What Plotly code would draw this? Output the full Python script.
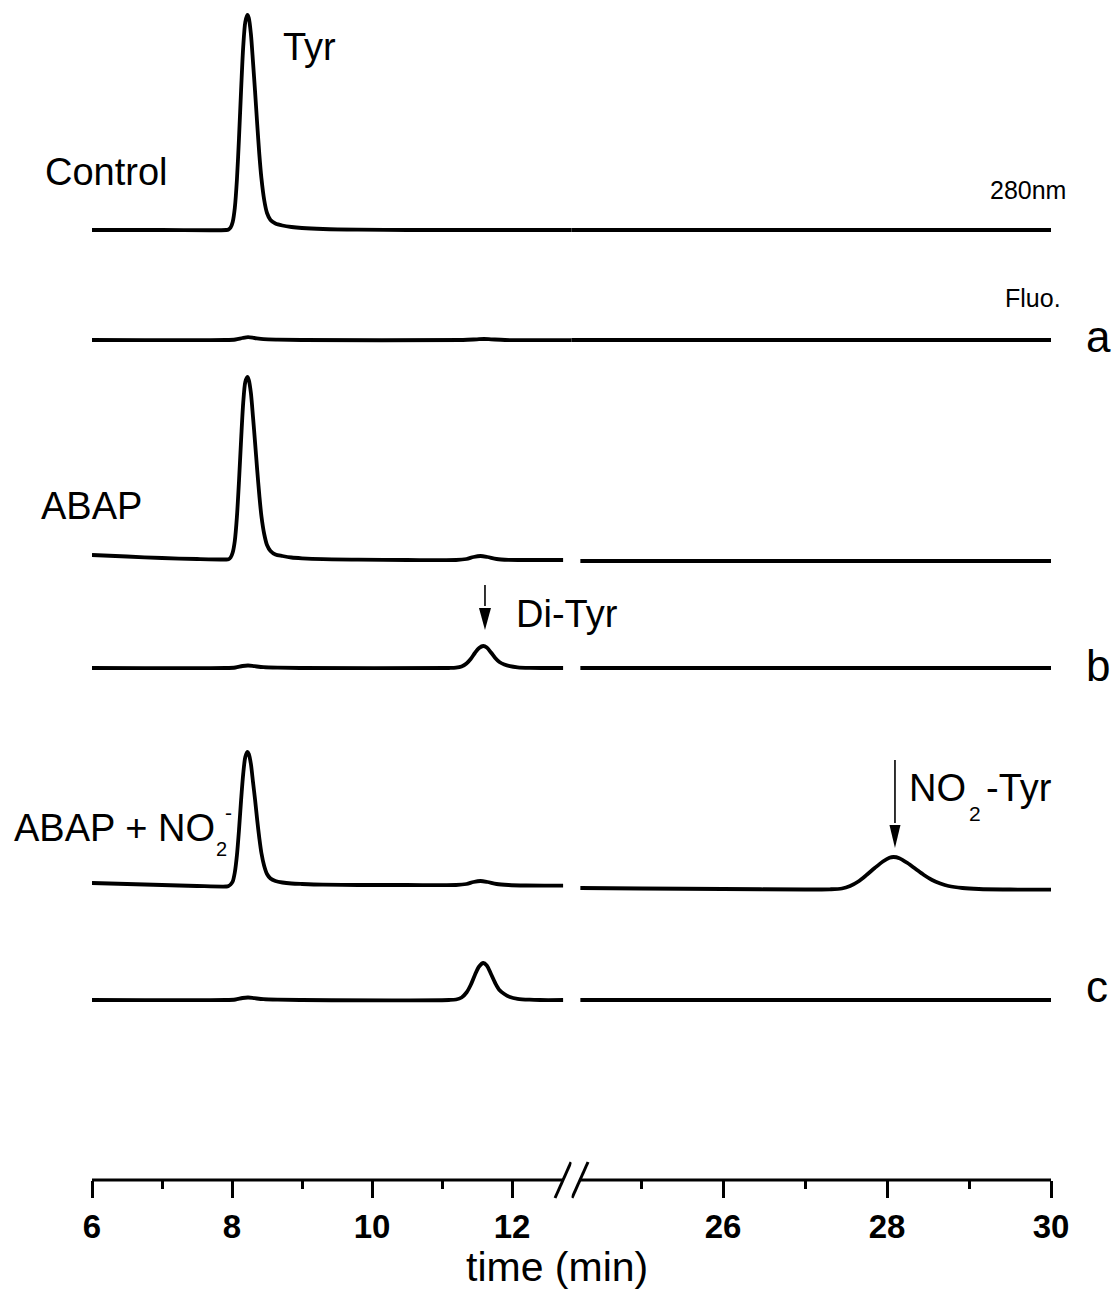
import plotly.graph_objects as go

# ---------------------------------------------------------------------------
# Chromatogram data: retention time (min) and detector response (a.u.,
# measured from each trace's own baseline).  Times below 20 min belong to the
# left panel of the broken time axis, times above 20 min to the right panel.
# ---------------------------------------------------------------------------

# Control, 280 nm absorbance
control_t = [6.0, 7.0, 7.92, 7.95, 7.98, 8.01, 8.04, 8.07, 8.10, 8.13, 8.16, 8.19,
             8.22, 8.24, 8.27, 8.30, 8.33, 8.36, 8.39, 8.42, 8.46, 8.50, 8.55, 8.62,
             8.72, 8.85, 9.0, 9.3, 9.8, 10.5, 11.5, 12.95,
             24.05, 27.0, 30.0]
control_v = [0, 0, 0, 0.5, 2.5, 8, 22, 50, 92, 140, 183, 208,
             215, 212, 196, 168, 138, 106, 76, 52, 30, 17, 10, 6.5,
             4.5, 3, 2, 1, 0.3, 0, 0, 0,
             0, 0, 0]

# Control, fluorescence (trace a)
a_t = [6.0, 7.9, 8.05, 8.15, 8.23, 8.32, 8.45, 8.65, 9.0, 11.3, 11.5, 11.6, 11.7,
       11.9, 12.95, 24.05, 30.0]
a_v = [0, 0, 0.5, 2, 2.8, 2, 0.8, 0.3, 0, 0, 0.7, 1, 0.7,
       0, 0, 0, 0]

# ABAP, 280 nm absorbance
abap_t = [6.0, 6.5, 7.0, 7.5, 7.9, 7.95, 7.98, 8.01, 8.04, 8.07, 8.10, 8.13, 8.16,
          8.19, 8.22, 8.24, 8.27, 8.30, 8.33, 8.36, 8.39, 8.42, 8.46, 8.50, 8.55,
          8.62, 8.72, 8.85, 9.0, 9.3, 9.8, 10.5, 11.2, 11.35, 11.45, 11.55, 11.65,
          11.78, 11.95, 12.2, 12.73,
          24.26, 30.0]
abap_v = [5, 3.5, 2, 1, 0.5, 0.7, 2.5, 7.5, 19, 43, 79, 120, 157,
          178, 183, 180, 167, 143, 117, 90, 65, 44, 26, 15, 9,
          5.5, 4, 2.5, 1.7, 0.8, 0.3, 0, 0, 1, 3, 4, 3,
          1, 0.2, 0, 0,
          -1, -1]

# ABAP, fluorescence (trace b)
b_t = [6.0, 7.9, 8.05, 8.15, 8.23, 8.32, 8.45, 8.65, 9.0, 11.10, 11.20, 11.28,
       11.35, 11.41, 11.47, 11.53, 11.59, 11.64, 11.70, 11.76, 11.82, 11.89, 11.97,
       12.08, 12.25, 12.73,
       24.26, 30.0]
b_v = [0, 0, 0.5, 2, 2.5, 1.8, 0.8, 0.3, 0, 0, 0.3, 1.5,
       4.5, 9, 15, 20, 22, 20.5, 15.5, 10, 6, 3.5, 1.8,
       0.7, 0.2, 0,
       0, 0]

# ABAP + NO2-, 280 nm absorbance
nitrite_t = [6.0, 6.5, 7.0, 7.5, 7.92, 7.95, 7.98, 8.01, 8.04, 8.07, 8.10, 8.13,
             8.16, 8.19, 8.22, 8.24, 8.27, 8.30, 8.33, 8.36, 8.39, 8.42, 8.46, 8.50,
             8.55, 8.62, 8.72, 8.85, 9.0, 9.3, 9.8, 10.5, 11.2, 11.35, 11.45, 11.55,
             11.65, 11.78, 11.95, 12.2, 12.73,
             24.26, 25.0, 26.0, 27.0, 27.3, 27.45, 27.55, 27.65, 27.75, 27.85, 27.95,
             28.03, 28.08, 28.15, 28.25, 28.35, 28.45, 28.55, 28.65, 28.75, 28.92,
             29.12, 29.5, 30.0]
nitrite_v = [3, 2, 1, 0, -0.5, 0, 1.5, 4.5, 13.5, 30.5, 56, 86,
             112, 129, 134, 132, 122, 104, 86, 66, 48, 33, 20, 12,
             7.5, 5, 3.5, 2.5, 2, 1.3, 1, 1, 1, 2, 4, 5,
             4, 2, 1, 0.5, 0.3,
             -2, -2.5, -3, -3.5, -3.3, -2.5, 0, 4.5, 11, 18, 24.5,
             28.3, 29, 27.8, 23, 17, 11, 6, 2.5, 0, -2,
             -3, -3.5, -3.7]

# ABAP + NO2-, fluorescence (trace c)
c_t = [6.0, 7.9, 8.05, 8.15, 8.23, 8.32, 8.45, 8.65, 9.0, 11.10, 11.20, 11.28,
       11.35, 11.41, 11.47, 11.53, 11.59, 11.64, 11.70, 11.76, 11.82, 11.89, 11.97,
       12.08, 12.25, 12.4, 12.73,
       24.26, 30.0]
c_v = [0, 0, 0.5, 2, 2.5, 1.8, 0.8, 0.3, 0, 0, 0.5, 2.5,
       7.5, 15, 25, 33.5, 37, 34.5, 26, 17, 10, 6, 3,
       1.2, 0.3, 0, 0,
       0, 0]

# Vertical stacking of the six traces (baseline of each, in plot units)
trace_names = ["Control 280nm", "Control Fluo.", "ABAP 280nm", "ABAP Fluo.",
               "ABAP + NO2- 280nm", "ABAP + NO2- Fluo."]
trace_times = [control_t, a_t, abap_t, b_t, nitrite_t, c_t]
trace_values = [control_v, a_v, abap_v, b_v, nitrite_v, c_v]
baselines = [950, 840, 620, 512, 294, 180]

# Broken time axis
left_ticks = [6, 8, 10, 12]
left_minor = [7, 9, 11]
right_ticks = [26, 28, 30]
right_minor = [25, 27, 29]

FONT = "Liberation Sans, Arial, Helvetica, sans-serif"
INK = "black"

fig = go.Figure()

for name, ts, vs, base in zip(trace_names, trace_times, trace_values, baselines):
    left = [(t, v + base) for t, v in zip(ts, vs) if t < 20]
    right = [(t, v + base) for t, v in zip(ts, vs) if t > 20]
    for pts, xa in ((left, "x"), (right, "x2")):
        fig.add_trace(go.Scatter(
            x=[p[0] for p in pts], y=[p[1] for p in pts],
            xaxis=xa, yaxis="y", mode="lines", name=name,
            line=dict(color=INK, width=3.8, shape="spline", smoothing=0.8),
            showlegend=False, hoverinfo="skip",
        ))

axis_common = dict(
    ticks="outside", ticklen=17, tickwidth=3, tickcolor=INK,
    showline=False, showgrid=False, zeroline=False, anchor="y",
    tickfont=dict(family=FONT, size=33, color=INK, weight="bold"),
)

fig.update_layout(
    width=1113, height=1291,
    margin=dict(l=92, r=62, t=0, b=111),
    paper_bgcolor="white", plot_bgcolor="white",
    xaxis=dict(domain=[0, 0.5], range=[6, 12.85], tickvals=left_ticks,
               minor=dict(tickvals=left_minor, ticks="outside", ticklen=8,
                          tickwidth=3, tickcolor=INK),
               **axis_common),
    xaxis2=dict(domain=[0.5, 1], range=[24.152, 30], tickvals=right_ticks,
                minor=dict(tickvals=right_minor, ticks="outside", ticklen=8,
                           tickwidth=3, tickcolor=INK),
                **axis_common),
    yaxis=dict(range=[0, 1180], visible=False, fixedrange=True),
)

# Axis lines with the "//" break mark between the two panels
axis_line = dict(color=INK, width=3)
shapes = [
    dict(type="line", xref="x", yref="paper", x0=5.98, x1=12.73, y0=0, y1=0, line=axis_line),
    dict(type="line", xref="x2", yref="paper", x0=24.256, x1=30.02, y0=0, y1=0, line=axis_line),
    dict(type="line", xref="x", yref="paper", xsizemode="pixel", ysizemode="pixel",
         xanchor=12.729, yanchor=0, x0=-8, x1=8, y0=-18, y1=18, line=axis_line),
    dict(type="line", xref="x2", yref="paper", xsizemode="pixel", ysizemode="pixel",
         xanchor=24.256, yanchor=0, x0=-8, x1=8, y0=-18, y1=18, line=axis_line),
]

# Peak marker arrows (shaft + filled head)
arrow_line = dict(color=INK, width=1.6)
for xref, t, tail, head_base, tip, half in (("x", 11.614, 595, 572, 550, 6),
                                            ("x2", 28.097, 420, 355, 332, 5.5)):
    shapes.append(dict(type="line", xref=xref, yref="y", x0=t, x1=t,
                       y0=tail, y1=head_base + 2, line=arrow_line))
    shapes.append(dict(type="path", xref=xref, yref="y", xsizemode="pixel",
                       xanchor=t,
                       path=f"M{-half},{head_base} L{half},{head_base} L0,{tip} Z",
                       fillcolor=INK, line=dict(width=0)))
fig.update_layout(shapes=shapes)


def label(text, x, y, size=38, xref="paper", xanchor="left"):
    fig.add_annotation(text=text, x=x, y=y, xref=xref, yref="y",
                       xanchor=xanchor, yanchor="middle", showarrow=False,
                       borderpad=0, font=dict(family=FONT, size=size, color=INK))


def px(x):
    # horizontal page pixel -> paper fraction of the plot area
    return (x - 92) / 959


label("Tyr", 8.714, 1133, xref="x")
label("Control", px(44), 1008)
label("280nm", px(1067), 990, size=25, xanchor="right")
label("Fluo.", px(1062), 882, size=25, xanchor="right")
label("a", px(1085), 844, size=44)
label("ABAP", px(40), 674)
label("b", px(1085), 515, size=44)
label("Di-Tyr", 12.043, 566, xref="x")
label("ABAP + NO", px(13), 352)
label("2", px(221.5), 331, size=20, xanchor="center")
label("-", px(228.5), 368, size=21, xanchor="center")
label("c", px(1085), 194, size=44)
label("NO", 28.256, 392, xref="x2")
label("2", 29.079, 367, size=21, xref="x2", xanchor="center")
label("-Tyr", 29.194, 392, xref="x2")

fig.add_annotation(text="time (min)", x=px(557), y=0, xref="paper", yref="paper",
                   xanchor="center", yanchor="middle", yshift=-87, showarrow=False,
                   font=dict(family=FONT, size=41, color=INK))

fig.write_html("out.html", config={"displayModeBar": False})
